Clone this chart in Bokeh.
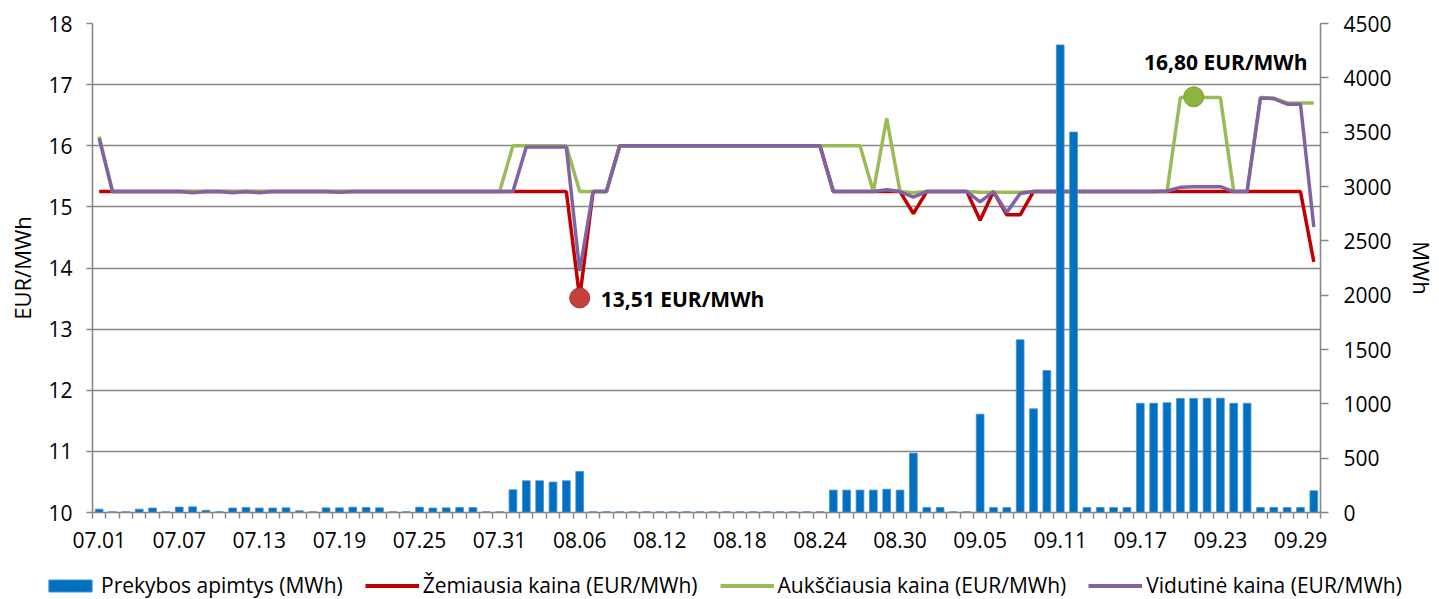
import datetime
from bokeh.plotting import figure
from bokeh.models import (Range1d, LinearAxis, FixedTicker, Legend, LegendItem,
                          ColumnDataSource)
from bokeh.core.properties import value
from bokeh.embed import file_html
from bokeh.resources import INLINE

# ---------------- data ----------------
start = datetime.date(2014, 7, 1)
dates = [(start + datetime.timedelta(days=i)).strftime("%m.%d") for i in range(92)]

volume_mwh = [
    31, 8, 8, 31, 41, 8, 50, 52, 20, 8,
    41, 46, 41, 41, 43, 15, 8, 43, 43, 49,
    46, 43, 8, 8, 49, 41, 43, 46, 46, 8,
    8, 209, 292, 292, 280, 292, 378, 8, 8, 8,
    8, 8, 8, 8, 8, 8, 8, 8, 8, 8,
    8, 8, 8, 8, 8, 206, 206, 206, 206, 214,
    206, 546, 46, 46, 8, 8, 905, 46, 46, 1589,
    954, 1306, 4303, 3501, 46, 46, 46, 46, 1005, 1005,
    1010, 1050, 1050, 1052, 1052, 1005, 1005, 46, 46, 46,
    46, 200,
]

min_price = [
    15.25, 15.25, 15.25, 15.25, 15.25, 15.25, 15.25, 15.25, 15.25, 15.25,
    15.25, 15.25, 15.25, 15.25, 15.25, 15.25, 15.25, 15.25, 15.25, 15.25,
    15.25, 15.25, 15.25, 15.25, 15.25, 15.25, 15.25, 15.25, 15.25, 15.25,
    15.25, 15.25, 15.25, 15.25, 15.25, 15.25, 13.51, 15.25, 15.25, 16.00,
    16.00, 16.00, 16.00, 16.00, 16.00, 16.00, 16.00, 16.00, 16.00, 16.00,
    16.00, 16.00, 16.00, 16.00, 16.00, 15.25, 15.25, 15.25, 15.25, 15.25,
    15.25, 14.89, 15.25, 15.25, 15.25, 15.25, 14.78, 15.25, 14.87, 14.87,
    15.25, 15.25, 15.25, 15.25, 15.25, 15.25, 15.25, 15.25, 15.25, 15.25,
    15.25, 15.25, 15.25, 15.25, 15.25, 15.25, 15.25, 15.25, 15.25, 15.25,
    15.25, 14.10,
]

max_price = [
    16.15, 15.25, 15.25, 15.25, 15.25, 15.25, 15.25, 15.25, 15.25, 15.25,
    15.25, 15.25, 15.25, 15.25, 15.25, 15.25, 15.25, 15.25, 15.25, 15.25,
    15.25, 15.25, 15.25, 15.25, 15.25, 15.25, 15.25, 15.25, 15.25, 15.25,
    15.25, 16.00, 16.00, 16.00, 16.00, 16.00, 15.25, 15.25, 15.25, 16.00,
    16.00, 16.00, 16.00, 16.00, 16.00, 16.00, 16.00, 16.00, 16.00, 16.00,
    16.00, 16.00, 16.00, 16.00, 16.00, 16.00, 16.00, 16.00, 15.25, 16.45,
    15.25, 15.23, 15.25, 15.25, 15.25, 15.25, 15.24, 15.24, 15.24, 15.24,
    15.25, 15.25, 15.25, 15.25, 15.25, 15.25, 15.25, 15.25, 15.25, 15.25,
    15.25, 16.79, 16.80, 16.79, 16.79, 15.25, 15.25, 16.79, 16.78, 16.70,
    16.70, 16.70,
]

avg_price = [
    16.12, 15.25, 15.25, 15.25, 15.25, 15.25, 15.25, 15.23, 15.25, 15.25,
    15.23, 15.25, 15.23, 15.25, 15.25, 15.25, 15.25, 15.25, 15.24, 15.25,
    15.25, 15.25, 15.25, 15.25, 15.25, 15.25, 15.25, 15.25, 15.25, 15.25,
    15.25, 15.25, 15.98, 15.98, 15.98, 15.98, 13.95, 15.25, 15.25, 16.00,
    16.00, 16.00, 16.00, 16.00, 16.00, 16.00, 16.00, 16.00, 16.00, 16.00,
    16.00, 16.00, 16.00, 16.00, 16.00, 15.25, 15.25, 15.25, 15.25, 15.28,
    15.25, 15.16, 15.25, 15.25, 15.25, 15.25, 15.08, 15.25, 14.91, 15.22,
    15.25, 15.25, 15.25, 15.25, 15.25, 15.25, 15.25, 15.25, 15.25, 15.25,
    15.26, 15.32, 15.33, 15.33, 15.33, 15.25, 15.25, 16.78, 16.77, 16.68,
    16.68, 14.67,
]

price_ticks = [10, 11, 12, 13, 14, 15, 16, 17, 18]
mwh_ticks = [0, 500, 1000, 1500, 2000, 2500, 3000, 3500, 4000, 4500]
label_step = 6

series_labels = [
    "Prekybos apimtys (MWh)",
    "Žemiausia kaina (EUR/MWh)",
    "Aukščiausia kaina (EUR/MWh)",
    "Vidutinė kaina (EUR/MWh)",
]

# ---------------- style ----------------
FONT = "Open Sans"
GRID = "#878787"
BLUE = "#0070C0"
BAR_EDGE = "#4A90D0"
RED = "#C00000"
GREEN = "#9BBB59"
PURPLE = "#8064A2"
LW = 3.5

n = len(dates)
idx = list(range(n))

p = figure(width=1439, height=565,
           x_range=Range1d(-0.5, n - 0.5),
           y_range=Range1d(price_ticks[0], price_ticks[-1]),
           output_backend="svg", toolbar_location=None,
           min_border_left=92, min_border_right=119,
           min_border_top=23, min_border_bottom=53)
p.extra_y_ranges = {"mwh": Range1d(mwh_ticks[0], mwh_ticks[-1])}
p.outline_line_color = None
p.background_fill_color = "white"
p.border_fill_color = "white"

p.xgrid.visible = False
p.ygrid.ticker = FixedTicker(ticks=price_ticks)
p.ygrid.grid_line_color = GRID
p.ygrid.grid_line_width = 1.6

# left axis
ya = p.yaxis[0]
ya.ticker = FixedTicker(ticks=price_ticks)
ya.axis_label = "EUR/MWh"
ya.axis_label_text_font = FONT
ya.axis_label_text_font_size = "22px"
ya.axis_label_text_font_style = "normal"
ya.axis_label_text_color = "black"
ya.axis_label_standoff = 8
ya.major_label_text_font = FONT
ya.major_label_text_font_size = "21px"
ya.major_label_text_color = "black"
ya.major_label_standoff = 14
ya.axis_line_color = GRID
ya.axis_line_width = 1.6
ya.major_tick_line_color = GRID
ya.major_tick_line_width = 1.6
ya.major_tick_in = 0
ya.major_tick_out = 6
ya.minor_tick_line_color = None

# right axis
ra = LinearAxis(y_range_name="mwh", ticker=FixedTicker(ticks=mwh_ticks),
                axis_label="MWh")
ra.axis_label_text_font = FONT
ra.axis_label_text_font_size = "22px"
ra.axis_label_text_font_style = "normal"
ra.axis_label_text_color = "black"
ra.axis_label_standoff = 12
ra.major_label_text_font = FONT
ra.major_label_text_font_size = "21px"
ra.major_label_text_color = "black"
ra.major_label_standoff = 15
ra.axis_line_color = GRID
ra.axis_line_width = 1.6
ra.major_tick_line_color = GRID
ra.major_tick_line_width = 1.6
ra.major_tick_in = 0
ra.major_tick_out = 8
ra.minor_tick_line_color = None
p.add_layout(ra, "right")

# x axis
xa = p.xaxis[0]
label_idx = list(range(0, n, label_step))
xa.ticker = FixedTicker(ticks=label_idx, minor_ticks=[i - 0.5 for i in range(n + 1)])
xa.major_label_overrides = {i: dates[i] for i in label_idx}
xa.major_label_text_font = FONT
xa.major_label_text_font_size = "21px"
xa.major_label_text_color = "black"
xa.major_label_standoff = 13
xa.axis_line_color = GRID
xa.axis_line_width = 1.6
xa.major_tick_line_color = None
xa.minor_tick_line_color = GRID
xa.minor_tick_line_width = 1.4
xa.minor_tick_in = 0
xa.minor_tick_out = 6

src = ColumnDataSource(dict(x=idx, vol=volume_mwh, lo=min_price,
                            hi=max_price, avg=avg_price))

p.line("x", "lo", source=src, line_color=RED, line_width=LW)
p.line("x", "hi", source=src, line_color=GREEN, line_width=LW)
p.line("x", "avg", source=src, line_color=PURPLE, line_width=LW)
p.vbar(x="x", top="vol", bottom=0, width=0.58, source=src,
       y_range_name="mwh", fill_color=BLUE, line_color=BAR_EDGE, line_width=0.8)

# annotations (min of lowest price, max of highest price)
i_min = min(idx, key=lambda i: min_price[i])
i_max = max(idx, key=lambda i: max_price[i])
v_min = min_price[i_min]
v_max = max_price[i_max]

def fmt(v):
    return f"{v:.2f}".replace(".", ",") + " EUR/MWh"

p.scatter([i_min], [v_min], size=20, fill_color="#C4403D", line_color="#A83333",
          line_width=1)
p.text(x=[i_min], y=[v_min], text=[fmt(v_min)], x_offset=21, y_offset=1,
       text_align="left", text_baseline="middle", text_font=value(FONT),
       text_font_style="bold", text_font_size="21px", text_color="black")

p.scatter([i_max], [v_max], size=20, fill_color="#8DB43F", line_color="#7A9E35",
          line_width=1)
p.text(x=[i_max], y=[v_max], text=[fmt(v_max)], x_offset=32, y_offset=-35,
       text_align="center", text_baseline="middle", text_font=value(FONT),
       text_font_style="bold", text_font_size="21px", text_color="black")

# ---------------- legend strip (separate root, full-width frame) ----------------
q = figure(width=1439, height=34, x_range=Range1d(-100, -99), y_range=Range1d(-100, -99),
           output_backend="svg", toolbar_location=None,
           x_axis_location=None, y_axis_location=None,
           min_border_left=0, min_border_right=0,
           min_border_top=0, min_border_bottom=0)
q.outline_line_color = None
q.background_fill_color = "white"
q.border_fill_color = "white"
q.xgrid.visible = False
q.ygrid.visible = False
# same series, drawn out of view: only their legend keys show
lg_bar = q.vbar(x="x", top="vol", bottom=0, width=0.58, source=src,
                fill_color=BLUE, line_color=BAR_EDGE)
lg_lo = q.line("x", "lo", source=src, line_color=RED, line_width=LW + 0.5)
lg_hi = q.line("x", "hi", source=src, line_color=GREEN, line_width=LW + 0.5)
lg_avg = q.line("x", "avg", source=src, line_color=PURPLE, line_width=LW + 0.5)

items = [LegendItem(label=lab, renderers=[r])
         for lab, r in zip(series_labels, [lg_bar, lg_lo, lg_hi, lg_avg])]
lg = Legend(items=items, location=(43, 0), orientation="horizontal",
            glyph_width=54, glyph_height=15, label_standoff=4, spacing=22,
            padding=0, margin=0, border_line_color=None,
            background_fill_alpha=0, label_text_font=FONT,
            label_text_font_size="21px", label_text_color="black")
q.add_layout(lg, "center")

open("out.html", "w").write(file_html([p, q], INLINE))
